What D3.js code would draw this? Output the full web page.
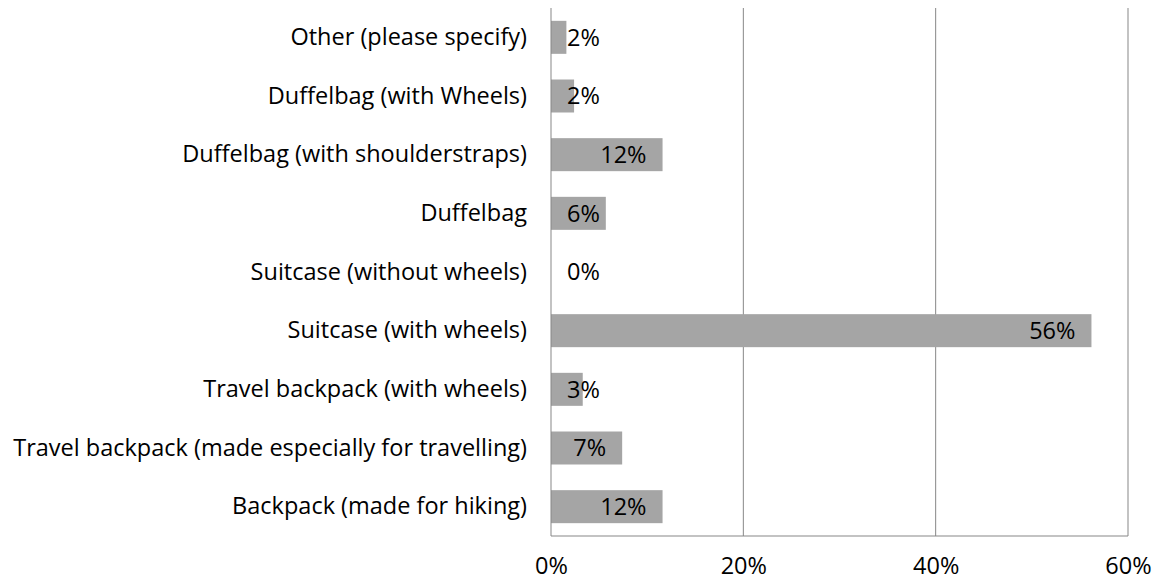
<!DOCTYPE html>
<html lang="en">
<head>
  <meta charset="utf-8">
  <script src="https://d3js.org/d3.v7.min.js"></script>
  <style>
    body { margin: 0; background: #fff; }
    svg text { font-family: "Open Sans", sans-serif; fill: #000; }
  </style>
</head>
<body>
<svg width="1160" height="583"></svg>
<script>
  // data, top row first
  var categories = [
    "Other (please specify)",
    "Duffelbag (with Wheels)",
    "Duffelbag (with shoulderstraps)",
    "Duffelbag",
    "Suitcase (without wheels)",
    "Suitcase (with wheels)",
    "Travel backpack (with wheels)",
    "Travel backpack (made especially for travelling)",
    "Backpack (made for hiking)"
  ];
  var values = [1.6, 2.4, 11.6, 5.7, 0, 56.2, 3.3, 7.4, 11.6];
  var valueLabels = ["2%", "2%", "12%", "6%", "0%", "56%", "3%", "7%", "12%"];
  var xTicks = [0, 20, 40, 60];

  var fontSize = "23.5px";

  var svg = d3.select("svg"),
      margin = {top: 8, right: 32, bottom: 47, left: 551},
      width = 1128 - margin.left,
      height = 536 - margin.top;

  var canvas = svg.append("g")
      .attr("transform", "translate(" + margin.left + "," + margin.top + ")");

  var x = d3.scaleLinear().domain([0, 60]).range([0, width]);
  var y = d3.scaleBand().domain(categories).range([0, height])
      .paddingInner(0.4375).paddingOuter(0.21875);

  // gridlines
  canvas.selectAll(".grid")
      .data(xTicks.slice(1))
      .enter().append("line")
      .attr("x1", function(d) { return x(d); })
      .attr("x2", function(d) { return x(d); })
      .attr("y1", 0)
      .attr("y2", height)
      .attr("stroke", "#878787")
      .attr("stroke-width", 1);

  // bars
  canvas.selectAll(".bar")
      .data(values)
      .enter().append("rect")
      .attr("x", x(0))
      .attr("y", function(d, i) { return y(categories[i]); })
      .attr("width", function(d) { return x(d) - x(0); })
      .attr("height", y.bandwidth())
      .attr("fill", "#a5a5a5");

  // axis lines
  canvas.append("line")
      .attr("x1", 0).attr("x2", 0).attr("y1", 0).attr("y2", height)
      .attr("stroke", "#878787");
  canvas.append("line")
      .attr("x1", 0).attr("x2", width).attr("y1", height).attr("y2", height)
      .attr("stroke", "#878787");

  // x tick labels
  var xAxis = d3.axisBottom(x).tickValues(xTicks).tickSize(0).tickPadding(21)
      .tickFormat(function(d) { return d + "%"; });
  var gx = canvas.append("g")
      .attr("transform", "translate(0," + height + ")")
      .call(xAxis);
  gx.select(".domain").remove();
  gx.selectAll("text").style("font-size", fontSize).style("font-family", "Open Sans, sans-serif").attr("fill", "#000");

  // category labels
  var yAxis = d3.axisLeft(y).tickSize(0).tickPadding(24);
  var gy = canvas.append("g").call(yAxis);
  gy.select(".domain").remove();
  gy.selectAll("text").style("font-size", fontSize).style("font-family", "Open Sans, sans-serif").attr("fill", "#000");

  // value labels: inside end, pushed out past the axis when the bar is short
  canvas.selectAll(".vlabel")
      .data(values)
      .enter().append("text")
      .attr("class", "vlabel")
      .attr("y", function(d, i) { return y(categories[i]) + y.bandwidth() / 2; })
      .attr("dy", "0.35em")
      .style("font-size", fontSize)
      .text(function(d, i) { return valueLabels[i]; })
      .attr("x", function(d) {
        var w = this.getComputedTextLength();
        return Math.max(x(d) - 16 - w, x(0) + 16);
      });
</script>
</body>
</html>
